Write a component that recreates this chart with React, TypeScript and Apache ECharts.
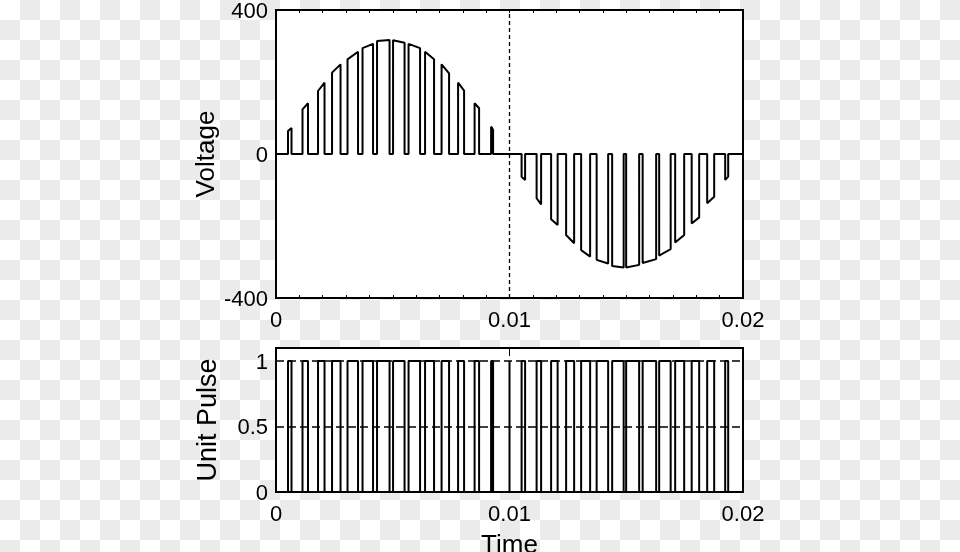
import React, { useEffect, useRef } from "react";
import * as echarts from "echarts";

// Pulse edges (seconds)
const pulseStart = [
  0.000514, 0.001135, 0.0018, 0.0024, 0.003063, 0.003706, 0.004327, 0.005013, 0.005677, 0.006384, 0.007091, 0.007798, 0.008505, 0.009212,
  0.010518, 0.011161, 0.011782, 0.012425, 0.013068, 0.013732, 0.014396, 0.014996, 0.015703, 0.01641, 0.017095, 0.017802, 0.018466, 0.019237,
];
const pulseEnd = [
  0.000664, 0.001371, 0.002078, 0.002764, 0.003513, 0.004156, 0.004863, 0.005506, 0.00617, 0.006769, 0.007412, 0.008055, 0.008698, 0.009297,
  0.010668, 0.011354, 0.012061, 0.012768, 0.013453, 0.014225, 0.014889, 0.015553, 0.016281, 0.016902, 0.017481, 0.018123, 0.018766, 0.019366,
];
// Voltage at the start and end of each pulse top
const voltStart = [
  64, 124, 175, 226, 263, 294, 314, 316, 306, 284, 249, 198, 141, 76,
  -63, -123, -181, -225, -267, -294, -311, -315, -303, -282, -246, -193, -137, -72,
];
const voltEnd = [
  72, 141, 198, 249, 284, 306, 317, 309, 294, 263, 224, 176, 127, 67,
  -72, -140, -197, -248, -285, -304, -315, -308, -292, -264, -225, -176, -119, -63,
];
const spikeTimes = [0.01];
const xTickLabels = [0, 0.01, 0.02];
const voltTickLabels = [-400, 0, 400];
const unitTickLabels = [0, 0.5, 1];
const unitLevels = [1, 0.5];
const midTime = 0.01;

const FONT = "Liberation Sans, Arial, Helvetica, sans-serif";

function near(list: number[], v: number) {
  return list.some((x) => Math.abs(x - v) < 1e-9);
}

export default function App() {
  const ref = useRef<HTMLDivElement>(null);
  useEffect(() => {
    const chart = echarts.init(ref.current!, null, { renderer: "svg" });

    const voltData: number[][] = [[0, 0]];
    for (let i = 0; i < pulseStart.length; i++) {
      voltData.push([pulseStart[i], 0], [pulseStart[i], voltStart[i]], [pulseEnd[i], voltEnd[i]], [pulseEnd[i], 0]);
    }
    voltData.push([0.02, 0]);

    type Ev = { s: number; e: number };
    const evs: Ev[] = pulseStart.map((s, i) => ({ s, e: pulseEnd[i] }));
    spikeTimes.forEach((t) => evs.push({ s: t, e: t }));
    evs.sort((a, b) => a.s - b.s);
    const unitData: number[][] = [[0, 0]];
    evs.forEach((ev) => {
      unitData.push([ev.s, 0], [ev.s, 1], [ev.e, 1], [ev.e, 0]);
    });
    unitData.push([0.02, 0]);

    const xLabelFmt = (v: number) => (near(xTickLabels, v) ? String(+v.toFixed(3)) : "");
    const labelStyle = { color: "#000", fontSize: 22, fontFamily: FONT };
    const nameStyle = { color: "#000", fontSize: 26, fontFamily: FONT };

    chart.setOption({
      animation: false,
      grid: [
        {
          left: 276, top: 10, width: 467, height: 288, show: true, backgroundColor: "#fff", borderColor: "#000", borderWidth: 2,
          containLabel: false, outerBoundsMode: "none",
        },
        {
          left: 276, top: 348, width: 467, height: 144, show: true, backgroundColor: "#fff", borderColor: "#000", borderWidth: 2,
          containLabel: false, outerBoundsMode: "none",
        },
      ],
      xAxis: [
        {
          gridIndex: 0, type: "value", min: 0, max: 0.02, interval: 0.001, position: "bottom",
          axisLine: { show: false, onZero: false },
          axisTick: { show: true, inside: true, length: 3, lineStyle: { color: "#000", width: 1 } },
          axisLabel: { ...labelStyle, margin: 10, interval: 0, formatter: xLabelFmt },
          splitLine: { show: false },
        },
        {
          gridIndex: 0, type: "value", min: 0, max: 0.02, interval: 0.001, position: "top",
          axisLine: { show: false, onZero: false },
          axisTick: { show: true, inside: true, length: 3, lineStyle: { color: "#000", width: 1 } },
          axisLabel: { show: false },
          splitLine: { show: false },
        },
        {
          gridIndex: 1, type: "value", min: 0, max: 0.02, interval: 0.01, position: "bottom",
          axisLine: { show: false, onZero: false },
          axisTick: { show: false },
          axisLabel: { ...labelStyle, margin: 10, formatter: xLabelFmt },
          splitLine: { show: false },
          name: "Time", nameLocation: "middle", nameGap: 39, nameTextStyle: nameStyle,
        },
        {
          gridIndex: 1, type: "value", min: 0, max: 0.02, interval: 0.01, position: "top",
          axisLine: { show: false, onZero: false },
          axisTick: { show: true, inside: true, length: 8, lineStyle: { color: "#000", width: 1 } },
          axisLabel: { show: false },
          splitLine: { show: false },
        },
      ],
      yAxis: [
        {
          gridIndex: 0, type: "value", min: -400, max: 400, interval: 400,
          axisLine: { show: false, onZero: false },
          axisTick: { show: false },
          axisLabel: { ...labelStyle, margin: 8, formatter: (v: number) => (near(voltTickLabels, v) ? String(v) : "") },
          splitLine: { show: false },
          name: "Voltage", nameLocation: "middle", nameGap: 58, nameTextStyle: nameStyle,
        },
        {
          gridIndex: 1, type: "value", min: 0, max: 1.1, interval: 0.5,
          axisLine: { show: false, onZero: false },
          axisTick: { show: false },
          axisLabel: { ...labelStyle, margin: 8, formatter: (v: number) => (near(unitTickLabels, v) ? String(v) : "") },
          splitLine: { show: false },
          name: "Unit Pulse", nameLocation: "middle", nameGap: 56, nameTextStyle: { ...nameStyle, fontSize: 27 },
        },
      ],
      series: [
        {
          type: "line", xAxisIndex: 0, yAxisIndex: 0, data: voltData, showSymbol: false,
          lineStyle: { color: "#000", width: 2 }, z: 3,
          markLine: {
            silent: true, symbol: "none", label: { show: false },
            lineStyle: { color: "#000", width: 1.3, type: [4, 3] },
            data: [{ xAxis: midTime }],
          },
        },
        {
          type: "line", xAxisIndex: 2, yAxisIndex: 1, data: unitData, showSymbol: false,
          lineStyle: { color: "#000", width: 2 }, z: 3,
          markLine: {
            silent: true, symbol: "none", label: { show: false },
            lineStyle: { color: "#000", width: 1.5, type: [8, 4] },
            data: unitLevels.map((v) => ({ yAxis: v })),
          },
        },
      ],
    });
    return () => chart.dispose();
  }, []);
  return (
    <div
      style={{
        position: "fixed", left: 0, top: 0, width: 960, height: 552,
        backgroundImage: "repeating-conic-gradient(#ebebeb 0 25%, #ffffff 0 50%)",
        backgroundSize: "40px 40px",
      }}
    >
      <div ref={ref} style={{ width: 960, height: 552 }} />
    </div>
  );
}
